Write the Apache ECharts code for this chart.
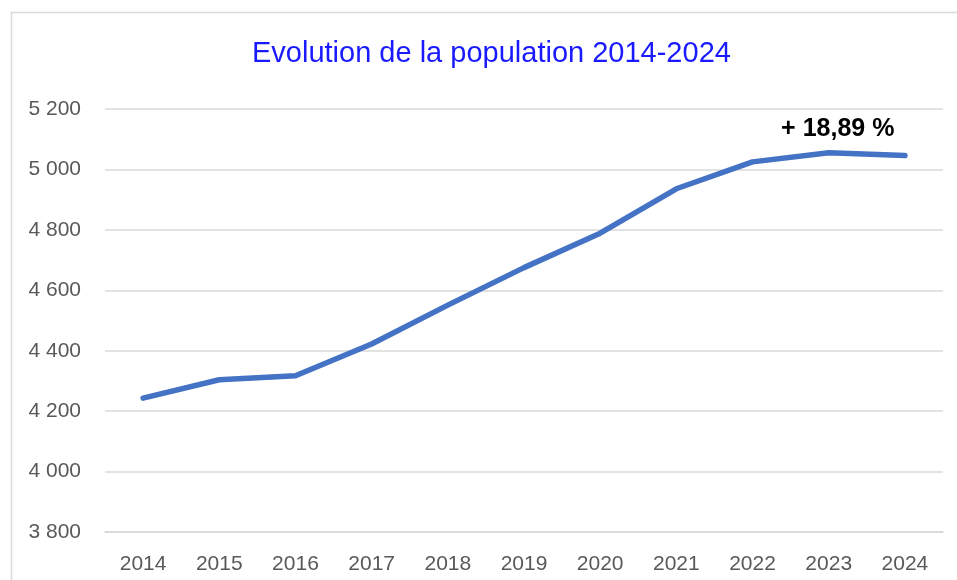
<!DOCTYPE html>
<html>
<head>
<meta charset="utf-8">
<script src="https://cdn.jsdelivr.net/npm/echarts@6/dist/echarts.min.js"></script>
<style>
html,body{margin:0;padding:0;background:#fff;}
#chart{width:957px;height:580px;}
</style>
</head>
<body>
<div id="chart"></div>
<script>
const titleText = 'Evolution de la population 2014-2024';
const years = ['2014','2015','2016','2017','2018','2019','2020','2021','2022','2023','2024'];
const population = [4243, 4304, 4317, 4422, 4551, 4675, 4789, 4936, 5025, 5055, 5046];
const yTicks = [3800, 4000, 4200, 4400, 4600, 4800, 5000, 5200];
const growthLabel = '+ 18,89 %';
const growthLabelIndex = 9;

const chart = echarts.init(document.getElementById('chart'), null, {renderer: 'canvas'});

const seriesData = population.map((v, i) => {
  if (i === growthLabelIndex) {
    return {
      value: v,
      label: {
        show: true,
        position: 'top',
        distance: 5,
        offset: [9, -6],
        formatter: growthLabel,
        color: '#000000',
        fontWeight: 'bold',
        fontSize: 25,
        fontFamily: 'Liberation Sans'
      }
    };
  }
  return v;
});

const option = {
  animation: false,
  backgroundColor: '#ffffff',
  title: {
    text: titleText,
    left: 252,
    top: 39,
    padding: 0,
    textStyle: {
      color: '#1a1aff',
      fontSize: 29,
      fontWeight: 'normal',
      fontFamily: 'Liberation Sans'
    }
  },
  graphic: [{
    type: 'rect',
    shape: {x: 11.5, y: 12.5, width: 1000, height: 700},
    style: {fill: 'none', stroke: '#d9d9d9', lineWidth: 1.5},
    silent: true,
    z: -1
  }],
  grid: {left: 105, right: 14, top: 109, bottom: 48, containLabel: false},
  xAxis: {
    type: 'category',
    data: years,
    boundaryGap: true,
    axisLine: {show: true, lineStyle: {color: '#d9d9d9', width: 1.5}},
    axisTick: {show: false},
    axisLabel: {
      color: '#595959',
      fontSize: 21,
      fontFamily: 'Liberation Sans',
      margin: 22
    },
    splitLine: {show: false}
  },
  yAxis: {
    type: 'value',
    min: yTicks[0],
    max: yTicks[yTicks.length - 1],
    interval: 200,
    axisLine: {show: false},
    axisTick: {show: false},
    axisLabel: {
      color: '#595959',
      fontSize: 21,
      fontFamily: 'Liberation Sans',
      margin: 24,
      formatter: v => String(v).replace(/\B(?=(\d{3})+(?!\d))/g, ' ')
    },
    splitLine: {show: true, lineStyle: {color: '#d9d9d9', width: 1.5}}
  },
  series: [{
    type: 'line',
    data: seriesData,
    showSymbol: true,
    symbol: 'circle',
    symbolSize: 0,
    lineStyle: {color: '#4472C4', width: 5.5, cap: 'round', join: 'round'},
    itemStyle: {color: '#4472C4'}
  }]
};

chart.setOption(option);
</script>
</body>
</html>
